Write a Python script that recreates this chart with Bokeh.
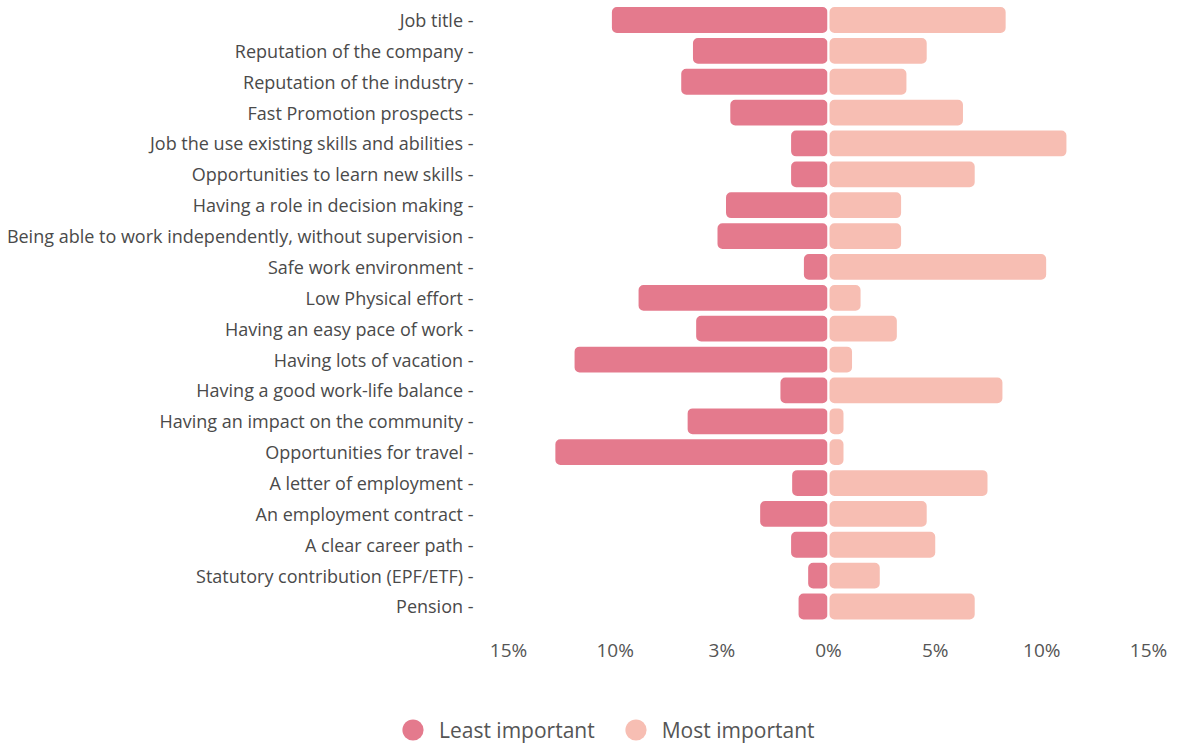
from bokeh.plotting import figure
from bokeh.layouts import column
from bokeh.models import ColumnDataSource, Range1d, FixedTicker, Legend, LegendItem
from bokeh.embed import file_html
from bokeh.resources import INLINE

categories = [
    "Job title",
    "Reputation of the company",
    "Reputation of the industry",
    "Fast Promotion prospects",
    "Job the use existing skills and abilities",
    "Opportunities to learn new skills",
    "Having a role in decision making",
    "Being able to work independently, without supervision",
    "Safe work environment",
    "Low Physical effort",
    "Having an easy pace of work",
    "Having lots of vacation",
    "Having a good work-life balance",
    "Having an impact on the community",
    "Opportunities for travel",
    "A letter of employment",
    "An employment contract",
    "A clear career path",
    "Statutory contribution (EPF/ETF)",
    "Pension",
]
least_important = [10.2, 6.4, 6.95, 4.65, 1.8, 1.8, 4.85, 5.25, 1.2, 8.95,
                   6.25, 11.95, 2.3, 6.65, 12.85, 1.75, 3.25, 1.8, 1.0, 1.45]
most_important = [8.35, 4.65, 3.7, 6.35, 11.2, 6.9, 3.45, 3.45, 10.25, 1.55,
                  3.25, 1.15, 8.2, 0.75, 0.75, 7.5, 4.65, 5.05, 2.45, 6.9]
x_ticks = [-15, -10, -5, 0, 5, 10, 15]
x_tick_labels = ["15%", "10%", "3%", "0%", "5%", "10%", "15%"]
series_names = ["Least important", "Most important"]

LEAST_COLOR = "#E47A8D"
MOST_COLOR = "#F7BEB3"
FONT = "Open Sans"

n = len(categories)
ypos = [n - 1 - i for i in range(n)]

src = ColumnDataSource(dict(
    y=ypos,
    neg=[-v for v in least_important],
    most=most_important,
    zero=[0] * n,
))

p = figure(
    width=1179, height=680,
    x_range=Range1d(-15, 15),
    y_range=Range1d(-0.875, 19.632),
    output_backend="svg", toolbar_location=None,
    min_border_left=508, min_border_right=31,
    min_border_top=0, min_border_bottom=47,
)
p.outline_line_color = None
p.xgrid.visible = False
p.ygrid.visible = False

p.hbar(y="y", left="neg", right="zero", height=0.9, source=src,
       fill_color=LEAST_COLOR, line_color="white", line_width=2, border_radius=6)
p.hbar(y="y", left="zero", right="most", height=0.9, source=src,
       fill_color=MOST_COLOR, line_color="white", line_width=2, border_radius=6)

# x axis
xa = p.xaxis[0]
xa.ticker = FixedTicker(ticks=x_ticks)
xa.major_label_overrides = {t: l for t, l in zip(x_ticks, x_tick_labels)}
xa.axis_line_color = None
xa.major_tick_line_color = None
xa.minor_tick_line_color = None
xa.major_tick_out = 0
xa.major_label_standoff = 3
xa.major_label_text_font = FONT
xa.major_label_text_font_size = "19px"
xa.major_label_text_color = "#555555"

# y axis
ya = p.yaxis[0]
ya.ticker = FixedTicker(ticks=ypos)
ya.major_label_overrides = {y: c + " -" for y, c in zip(ypos, categories)}
ya.axis_line_color = None
ya.major_tick_line_color = None
ya.minor_tick_line_color = None
ya.major_tick_out = 0
ya.major_label_standoff = 35
ya.major_label_text_font = FONT
ya.major_label_text_font_size = "18px"
ya.major_label_text_color = "#4a4a4a"

# legend strip below the chart
lg = figure(
    width=1179, height=65,
    x_range=Range1d(0, 1), y_range=Range1d(0, 1),
    x_axis_type=None, y_axis_type=None,
    output_backend="svg", toolbar_location=None,
    min_border_left=0, min_border_right=0, min_border_top=0, min_border_bottom=0,
)
if "frame_align" in lg.properties():
    lg.frame_align = False
lg.outline_line_color = None
lg.xgrid.visible = False
lg.ygrid.visible = False
# marker renderers kept outside the visible range; they only feed the legend
off = ColumnDataSource(dict(x=[-10], y=[-10]))
r1 = lg.scatter(x="x", y="y", source=off, marker="circle", size=20,
                fill_color=LEAST_COLOR, line_color=None)
r2 = lg.scatter(x="x", y="y", source=off, marker="circle", size=20,
                fill_color=MOST_COLOR, line_color=None)
legend = Legend(
    items=[LegendItem(label=series_names[0], renderers=[r1]),
           LegendItem(label=series_names[1], renderers=[r2])],
    orientation="horizontal",
    location=(386, -11),
    glyph_width=53, glyph_height=53,
    label_standoff=0, spacing=14, padding=0, margin=0,
    border_line_color=None, background_fill_alpha=0,
    label_text_font=FONT, label_text_font_size="21px",
    label_text_color="#555555",
)
lg.add_layout(legend, "center")

layout = column(p, lg, spacing=0)
open("out.html", "w").write(file_html(layout, INLINE))
